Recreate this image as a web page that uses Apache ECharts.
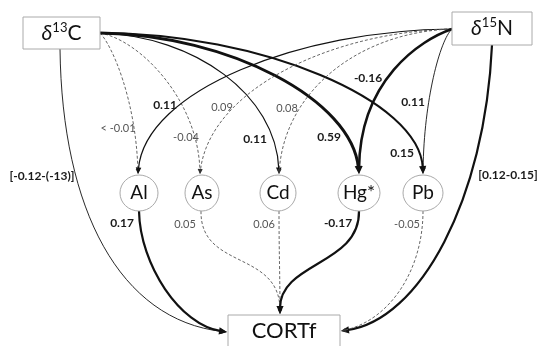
<!DOCTYPE html>
<html><head><meta charset="utf-8">
<script src="https://cdn.jsdelivr.net/npm/echarts@6/dist/echarts.min.js"></script>
<style>html,body{margin:0;padding:0;background:#fff}#c{width:539px;height:346px}</style>
</head><body><div id="c"></div>
<script>
// ---------------- data ----------------
const nodeNames = ['δ13C', 'δ15N', 'Al', 'As', 'Cd', 'Hg*', 'Pb', 'CORTf'];
const edgeFrom = ['δ13C','δ13C','δ13C','δ13C','δ13C','δ15N','δ15N','δ15N','δ15N','δ15N','δ13C','δ15N','Al','As','Cd','Hg*','Pb'];
const edgeTo   = ['Al','As','Cd','Hg*','Pb','Al','As','Cd','Hg*','Pb','CORTf','CORTf','CORTf','CORTf','CORTf','CORTf','CORTf'];
const coefficients = ['< -0.01','-0.04','0.11','0.59','0.15','0.11','0.09','0.08','-0.16','0.11','[-0.12-(-13)]','[0.12-0.15]','0.17','0.05','0.06','-0.17','-0.05'];
const significant  = [false,false,true,true,true,true,false,false,true,true,true,true,true,false,false,true,false];

// ---------------- layout (diagram geometry, axis units = px) ----------------
const nodeLayout = {
  'δ13C': {shape:'box', x:61.5, y:33, w:77, h:32},
  'δ15N': {shape:'box', x:492, y:28.5, w:80, h:33},
  'Al':   {shape:'ell', x:139, y:193, rx:19, ry:18},
  'As':   {shape:'ell', x:202, y:193, rx:17, ry:18},
  'Cd':   {shape:'ell', x:278, y:193, rx:18, ry:18},
  'Hg*':  {shape:'ell', x:359, y:193, rx:21, ry:18},
  'Pb':   {shape:'ell', x:423, y:193, rx:20, ry:18},
  'CORTf':{shape:'box', x:284, y:340, w:112, h:50}
};
// [P0, C1, C2, P3, labelPos]
const edgePaths = [
  [[100,33],[112,45],[136,100],[138,174],[118,128]],
  [[100,33],[140,40],[198,100],[200,174],[186,137]],
  [[100,33],[195,36],[276,95],[279,174],[255,139]],
  [[100,33],[230,35],[352,100],[359,174],[329,137]],
  [[100,33],[260,33],[420,100],[423,174],[402,153]],
  [[452,29],[300,30],[145,90],[138,174],[165,105]],
  [[452,29],[330,32],[210,90],[200,174],[222,107]],
  [[452,29],[360,32],[285,90],[279,174],[287,108]],
  [[452,29],[420,40],[360,80],[359,174],[368,78]],
  [[452,29],[440,40],[424,100],[423,174],[413,102]],
  [[60,49],[62,210],[120,320],[227,332],[42,176]],
  [[492,45],[485,200],[420,320],[341,331],[508,175]],
  [[139,211],[140,265],[180,325],[227,332],[122,223]],
  [[201,211],[200,270],[280,250],[280,314],[185,224]],
  [[279,211],[279,250],[280,280],[280,314],[264,224]],
  [[359,211],[360,265],[280,262],[280,314],[338,223]],
  [[423,211],[423,270],[390,320],[341,331],[407,224]]
];
// stroke widths per edge
const edgeWidths = [0.9,0.9,1.2,3,2,1.2,0.9,0.9,2.5,0.9,0.9,2.2,2.2,0.9,0.9,2.2,0.9];

const FONT = 'Lato, "Open Sans", sans-serif';

function renderEdge(params, api) {
  const i = params.dataIndex;
  const g = edgePaths[i];
  const p = g.map(pt => api.coord(pt));
  const dashed = !significant[i];
  const w = edgeWidths[i];
  const col = dashed ? '#555' : '#111';
  const tip = p[3];
  let dx = tip[0] - p[2][0], dy = tip[1] - p[2][1];
  const len = Math.hypot(dx, dy); dx /= len; dy /= len;
  const L = dashed ? 5 : (w > 1.8 ? 8 : 6.5);
  const hw = dashed ? 2.2 : (w > 1.8 ? 3.6 : 2.8);
  const end = [tip[0] - dx * L * 0.75, tip[1] - dy * L * 0.75];
  const base = [tip[0] - dx * L, tip[1] - dy * L];
  const children = [
    { type: 'bezierCurve', shape: { x1: p[0][0], y1: p[0][1], cpx1: p[1][0], cpy1: p[1][1], cpx2: p[2][0], cpy2: p[2][1], x2: end[0], y2: end[1] },
      style: { stroke: col, lineWidth: w, fill: null, lineDash: dashed ? [3, 2] : null } },
    { type: 'polygon', shape: { points: [tip, [base[0] - dy * hw, base[1] + dx * hw], [base[0] + dy * hw, base[1] - dx * hw]] },
      style: { fill: dashed ? '#333' : '#111' } },
    { type: 'text', style: { x: p[4][0], y: p[4][1], text: coefficients[i], align: 'center', verticalAlign: 'middle',
      font: (significant[i] ? 'bold 12px ' : '11px ') + FONT,
      fill: significant[i] ? '#1a1a1a' : '#555' } }
  ];
  return { type: 'group', children };
}

function renderNode(params, api) {
  const name = nodeNames[params.dataIndex];
  const n = nodeLayout[name];
  const c = api.coord([n.x, n.y]);
  const children = [];
  if (n.shape === 'box') {
    children.push({ type: 'rect', shape: { x: c[0] - n.w / 2, y: c[1] - n.h / 2, width: n.w, height: n.h },
      style: { fill: '#fff', stroke: '#aaa', lineWidth: 1 } });
  } else {
    children.push({ type: 'ellipse', shape: { cx: c[0], cy: c[1], rx: n.rx, ry: n.ry },
      style: { fill: '#fff', stroke: '#aaa', lineWidth: 1 } });
  }
  let text, rich = null;
  const m = name.match(/^δ(\d+)(\w)$/);
  if (m) {
    text = '{d|δ}{s|' + m[1] + '}{n|' + m[2] + '}';
    rich = {
      d: { fontFamily: FONT, fontSize: 21, fontStyle: 'italic', fill: '#111', lineHeight: 24 },
      s: { fontFamily: FONT, fontSize: 13, fill: '#111', verticalAlign: 'top', lineHeight: 24, padding: [0, 0, 8, 0] },
      n: { fontFamily: FONT, fontSize: 21, fill: '#111', lineHeight: 24 }
    };
  } else {
    text = name;
  }
  const style = { x: c[0], y: name === 'CORTf' ? api.coord([0, 331])[1] : c[1], text, align: 'center', verticalAlign: 'middle',
    font: (name === 'CORTf' ? '22px ' : '19px ') + FONT, fill: '#111' };
  if (rich) style.rich = rich;
  children.push({ type: 'text', style });
  return { type: 'group', children };
}

const chart = echarts.init(document.getElementById('c'), null, { renderer: 'canvas' });
chart.setOption({
  animation: false,
  backgroundColor: '#fff',
  grid: { left: 0, right: 0, top: 0, bottom: 0 },
  xAxis: { type: 'value', min: 0, max: 539, show: false },
  yAxis: { type: 'value', min: 0, max: 346, inverse: true, show: false },
  series: [
    { type: 'custom', coordinateSystem: 'cartesian2d', clip: false, z: 1,
      renderItem: renderEdge, data: coefficients.map((c, i) => [i, i]) },
    { type: 'custom', coordinateSystem: 'cartesian2d', clip: false, z: 2,
      renderItem: renderNode, data: nodeNames.map((n, i) => [i, i]) }
  ]
});
</script></body></html>
